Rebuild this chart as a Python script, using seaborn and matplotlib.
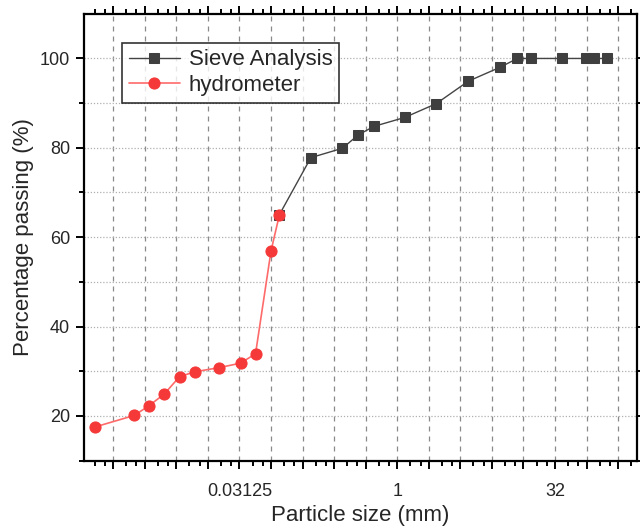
import numpy as np
import pandas as pd
import seaborn as sns
import matplotlib.pyplot as plt
from matplotlib.ticker import FixedLocator, FixedFormatter

# values
sieve_size = [0.075, 0.15, 0.3, 0.425, 0.6, 1.18, 2.36, 4.75, 9.5, 14, 19, 37.5, 63, 75, 100]
sieve_pass = [65, 77.8, 79.9, 82.9, 84.8, 86.8, 89.9, 94.9, 98, 100, 100, 100, 100, 100, 100]

hydro_size = [0.0013, 0.0031, 0.0043, 0.006, 0.0084, 0.0119, 0.020, 0.032, 0.0445, 0.0625, 0.075]
hydro_pass = [17.5, 20.1, 22.3, 24.9, 28.8, 29.9, 30.8, 31.8, 33.9, 56.9, 64.9]

x_major_exp = list(range(-9, 8))
x_label_map = {-5: "0.03125", 0: "1", 5: "32"}
y_ticks = [20, 40, 60, 80, 100]


def main():
    sns.set_theme(style="ticks")
    plt.rcParams["font.family"] = ["Liberation Sans", "DejaVu Sans"]

    sieve = pd.DataFrame({"size": sieve_size, "passing": sieve_pass})
    hydro = pd.DataFrame({"size": hydro_size, "passing": hydro_pass})

    fig = plt.figure(figsize=(6.4, 5.3), dpi=100)
    ax = fig.add_axes([0.131, 0.131, 0.864, 0.843])
    ax.set_xscale("log", base=2)

    sns.lineplot(data=sieve, x="size", y="passing", ax=ax, sort=False,
                 color="#444444", linewidth=1.0, marker="s", markersize=7.5,
                 markerfacecolor="#3f3f3f", markeredgecolor="#3f3f3f",
                 label="Sieve Analysis", zorder=3)
    sns.lineplot(data=hydro, x="size", y="passing", ax=ax, sort=False,
                 color="#ff6a6a", linewidth=1.2, marker="o", markersize=8,
                 markerfacecolor="#f53838", markeredgecolor="#f53838",
                 label="hydrometer", zorder=4)

    ax.set_xlim(2 ** -9.93, 2 ** 7.59)
    ax.set_ylim(10, 110)

    major = [2.0 ** e for e in x_major_exp]
    minor = [2.0 ** e * f for e in range(-10, 8) for f in (4 / 3, 5 / 3)]
    ax.xaxis.set_major_locator(FixedLocator(major))
    ax.xaxis.set_major_formatter(FixedFormatter([x_label_map.get(e, "") for e in x_major_exp]))
    ax.xaxis.set_minor_locator(FixedLocator(minor))
    ax.xaxis.set_minor_formatter(FixedFormatter([]))

    ax.yaxis.set_major_locator(FixedLocator(y_ticks))
    ax.yaxis.set_minor_locator(FixedLocator([10, 30, 50, 70, 90]))

    ax.grid(False)
    for e in x_major_exp:
        ax.axvline(2.0 ** e, color="#8a8a8a", linestyle=(0, (4, 4)), linewidth=0.9, zorder=1)
    for v in range(20, 110, 10):
        ax.axhline(v, color="#b0b0b0", linestyle=(0, (1, 1.5)), linewidth=0.9, zorder=1)

    for s in ax.spines.values():
        s.set_linewidth(1.6)
        s.set_color("black")
    ax.tick_params(which="both", direction="out", top=True, right=True,
                   color="black", width=1.4, labelsize=13)
    ax.tick_params(which="major", length=6)
    ax.tick_params(which="minor", length=3.5)
    ax.tick_params(axis="x", which="major", pad=10)
    ax.tick_params(axis="y", which="major", pad=4)

    ax.set_xlabel("Particle size (mm)", fontsize=16, labelpad=4)
    ax.set_ylabel("Percentage passing (%)", fontsize=16, labelpad=4)

    leg = ax.legend(loc="upper left", bbox_to_anchor=(0.069, 0.935),
                    borderaxespad=0, fontsize=16, frameon=True, fancybox=False,
                    handlelength=2.3, handletextpad=0.4, borderpad=0.3,
                    labelspacing=0.2)
    leg.get_frame().set_edgecolor("black")
    leg.get_frame().set_linewidth(1.2)

    fig.savefig("out.png", dpi=100, facecolor="white")


if __name__ == "__main__":
    main()
